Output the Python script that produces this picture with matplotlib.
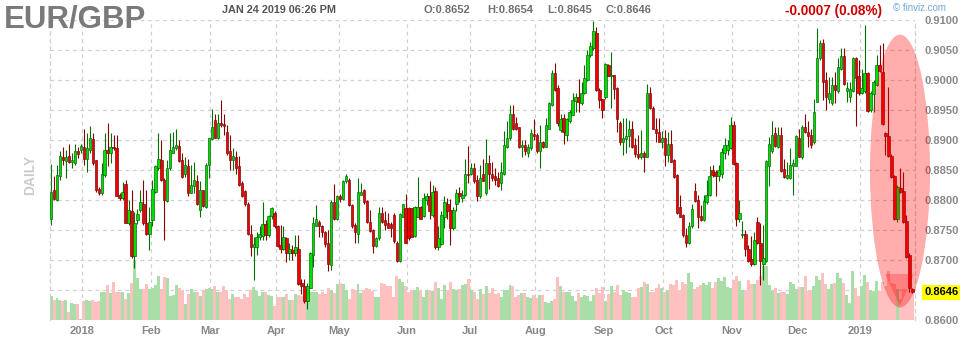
import numpy as np
import pandas as pd
import matplotlib
matplotlib.use('Agg')
import matplotlib.pyplot as plt
from matplotlib.patches import Ellipse, Polygon

plt.rcParams['font.family'] = ['Liberation Sans', 'DejaVu Sans']

# daily EUR/GBP candles, 15 Dec 2017 - 24 Jan 2019, prices in 1e-4 units
opens = [8768,8816,8800,8840,8872,8865,8874,8863,8862,8882, 8884,8889,8868,8884,8901,8867,8818,8811,8842,8883,
         8879,8889,8886,8809,8804,8827,8761,8781,8706,8766, 8783,8794,8761,8744,8767,8814,8853,8867,8834,8798,
         8853,8879,8886,8890,8866,8844,8857,8812,8823,8832, 8784,8817,8789,8858,8902,8934,8903,8928,8927,8913,
         8881,8867,8872,8857,8828,8815,8794,8744,8722,8722, 8739,8740,8760,8741,8773,8778,8757,8725,8719,8736,
         8711,8717,8711,8719,8662,8656,8632,8654,8708,8757, 8764,8757,8747,8728,8692,8797,8768,8807,8801,8831,
         8834,8792,8758,8744,8809,8817,8798,8763,8750,8723, 8736,8778,8767,8762,8760,8775,8729,8698,8772,8787,
         8786,8786,8740,8772,8788,8773,8800,8806,8775,8815, 8721,8726,8771,8794,8783,8753,8793,8811,8804,8808,
         8844,8844,8853,8833,8806,8843,8811,8862,8844,8840, 8836,8829,8844,8888,8903,8944,8929,8921,8888,8892,
         8879,8886,8910,8908,8881,8897,8889,8919,8958,9011, 8986,8917,8936,8908,8931,8942,8965,8972,8961,8978,
         9000,9041,9053,9079,8983,8968,8971,9025,9006,9008, 8986,8929,8896,8902,8906,8918,8892,8876,8871,8878,
         8872,8978,8954,8919,8914,8897,8903,8875,8894,8867, 8842,8789,8775,8741,8728,8756,8815,8800,8773,8767,
         8796,8808,8850,8847,8840,8844,8878,8883,8886,8925, 8862,8768,8741,8744,8719,8701,8694,8763,8729,8694,
         8699,8856,8882,8911,8889,8909,8852,8836,8836,8856, 8857,8904,8872,8921,8914,8908,8896,8964,9036,9061,
         9000,8969,8961,8992,8981,9018,9040,8982,8972,8981, 9036,9006,8979,8981,9011,8950,8976,8992,9025,9014,
         8911,8907,8874,8840,8769,8820,8815,8765,8708,8652]
highs = [8860,8840,8858,8881,8889,8883,8893,8878,8894,8888, 8894,8918,8911,8923,8911,8867,8822,8861,8911,8928,
         8911,8908,8908,8811,8830,8833,8800,8817,8780,8785, 8817,8833,8817,8789,8833,8858,8911,8900,8836,8867,
         8911,8914,8919,8900,8878,8872,8869,8858,8864,8842, 8831,8817,8861,8903,8951,8944,8944,8967,8944,8925,
         8908,8886,8881,8873,8832,8817,8796,8758,8739,8747, 8756,8797,8767,8775,8789,8781,8758,8758,8756,8738,
         8728,8725,8742,8742,8669,8669,8661,8714,8772,8792, 8767,8758,8749,8750,8800,8826,8808,8810,8833,8843,
         8836,8793,8761,8836,8828,8819,8800,8783,8751,8739, 8789,8789,8781,8778,8764,8779,8731,8778,8794,8810,
         8789,8787,8790,8839,8790,8811,8812,8832,8825,8821, 8757,8781,8806,8803,8801,8789,8819,8822,8817,8869,
         8890,8861,8861,8842,8858,8868,8902,8875,8864,8853, 8847,8864,8915,8932,8958,8958,8939,8922,8900,8900,
         8894,8919,8935,8911,8925,8898,8936,8964,9017,9029, 8992,8944,8944,8937,8950,8978,8978,9001,8997,9025,
         9050,9064,9098,9089,8986,8969,9029,9026,9047,9009, 8989,8931,8936,8936,8933,8932,8904,8908,8917,8881,
         8994,8989,8956,8936,8936,8915,8917,8914,8917,8868, 8843,8808,8776,8753,8764,8794,8828,8808,8792,8808,
         8833,8857,8858,8850,8859,8887,8903,8900,8939,8932, 8864,8800,8765,8750,8725,8740,8747,8772,8761,8758,
         8866,8905,8932,8922,8922,8922,8869,8864,8886,8869, 8908,8919,8925,8944,8932,8919,8969,9086,9067,9068,
         9013,9005,9005,9013,9036,9054,9053,8997,8997,9039, 9039,9033,9018,9092,9013,8981,9000,9041,9059,9061,
         8913,8988,8876,8842,8825,8853,8847,8775,8711,8654]
lows = [8758,8800,8798,8833,8858,8836,8861,8853,8858,8870, 8878,8858,8847,8878,8858,8814,8808,8808,8839,8856,
        8861,8883,8806,8800,8800,8761,8758,8703,8686,8760, 8780,8758,8742,8717,8756,8811,8850,8831,8733,8797,
        8850,8878,8883,8864,8836,8839,8806,8811,8811,8792, 8772,8789,8786,8836,8900,8903,8901,8922,8908,8875,
        8850,8850,8844,8823,8805,8790,8741,8706,8667,8708, 8733,8733,8733,8739,8769,8753,8722,8711,8717,8697,
        8700,8700,8706,8658,8644,8628,8619,8653,8689,8756, 8739,8739,8722,8681,8683,8767,8767,8797,8800,8828,
        8790,8753,8728,8729,8808,8794,8761,8747,8712,8722, 8734,8761,8750,8753,8739,8729,8697,8697,8771,8728,
        8733,8738,8739,8771,8768,8772,8792,8768,8772,8719, 8717,8725,8753,8769,8725,8750,8781,8797,8797,8806,
        8828,8842,8828,8798,8804,8831,8809,8819,8831,8825, 8822,8817,8842,8886,8900,8917,8917,8886,8871,8875,
        8872,8883,8900,8878,8854,8887,8888,8918,8957,8982, 8924,8914,8893,8898,8929,8942,8947,8947,8959,8976,
        8998,9039,9050,8982,8953,8936,8968,9006,8954,8969, 8913,8892,8875,8879,8889,8887,8872,8868,8869,8847,
        8871,8952,8918,8897,8896,8886,8857,8864,8863,8837, 8776,8771,8739,8722,8726,8753,8797,8753,8765,8765,
        8794,8806,8838,8807,8831,8836,8869,8875,8885,8858, 8756,8764,8737,8706,8697,8690,8692,8726,8658,8667,
        8697,8824,8879,8889,8887,8847,8836,8835,8835,8808, 8856,8871,8869,8911,8889,8886,8893,8963,9033,8967,
        8950,8961,8958,8961,8979,9017,8992,8963,8963,8980, 8924,8975,8976,8979,8947,8947,8947,8990,9014,8925,
        8875,8872,8837,8767,8764,8811,8761,8704,8647,8645]
closes = [8814,8801,8842,8874,8866,8872,8863,8867,8882,8877, 8890,8869,8886,8903,8861,8817,8812,8844,8884,8879,
          8889,8886,8807,8804,8814,8762,8783,8707,8761,8776, 8796,8761,8744,8764,8819,8856,8868,8833,8800,8854,
          8883,8888,8892,8865,8838,8858,8812,8825,8833,8794, 8817,8790,8859,8903,8921,8904,8929,8925,8924,8878,
          8867,8873,8854,8825,8807,8793,8743,8722,8727,8739, 8744,8760,8742,8773,8787,8756,8724,8719,8738,8711,
          8718,8711,8722,8660,8656,8632,8656,8711,8761,8769, 8756,8747,8726,8694,8797,8768,8807,8801,8832,8840,
          8792,8756,8746,8813,8813,8796,8763,8749,8724,8737, 8778,8764,8758,8754,8753,8731,8698,8777,8793,8729,
          8736,8739,8789,8789,8769,8804,8806,8781,8814,8721, 8736,8775,8796,8781,8754,8783,8811,8806,8809,8844,
          8841,8854,8832,8807,8837,8832,8862,8843,8837,8834, 8824,8847,8892,8904,8944,8919,8919,8888,8892,8881,
          8889,8911,8906,8881,8897,8889,8925,8961,9011,8983, 8929,8935,8913,8935,8946,8967,8972,8963,8979,9004,
          9041,9056,9082,8983,8967,8950,9026,9007,9009,8985, 8935,8896,8903,8907,8918,8889,8876,8871,8878,8871,
          8978,8953,8919,8912,8897,8903,8875,8894,8864,8839, 8778,8772,8741,8728,8757,8785,8798,8771,8767,8798,
          8808,8840,8842,8840,8850,8880,8892,8892,8925,8860, 8768,8779,8744,8718,8699,8694,8734,8729,8699,8704,
          8865,8893,8908,8890,8909,8848,8839,8841,8858,8861, 8906,8872,8921,8913,8906,8892,8946,9036,9061,8997,
          8971,8979,8991,8983,9021,9040,8994,8986,8985,9036, 9004,8979,8987,9011,8949,8978,8997,9025,9015,8926,
          8906,8873,8838,8769,8822,8814,8764,8705,8653,8646]
volume = [24,20,22,20,19,20,8,17,16,16, 1,19,20,19,20,18,19,28,28,35, 27,38,28,28,28,21,27,37,60,42,
          31,31,36,31,32,35,44,31,43,42, 24,25,35,32,30,16,26,31,28,28, 24,30,31,32,31,34,28,28,34,30,
          21,26,23,23,21,26,23,30,33,29, 24,28,28,25,24,14,23,23,23,26, 20,20,26,25,24,25,27,28,28,28,
          26,28,26,32,30,27,36,37,36,30, 21,31,30,36,27,30,32,31,29,23, 23,37,36,34,34,23,44,41,38,34,
          28,30,30,33,30,23,30,30,29,38, 32,21,35,30,38,31,30,31,35,36, 41,30,28,21,31,26,34,27,32,26,
          27,23,30,30,35,34,23,25,27,27, 23,22,25,22,25,25,18,17,19,21, 43,34,28,28,28,24,19,27,23,25,
          24,19,25,32,27,33,19,26,34,28, 35,25,30,28,27,23,23,32,33,38, 36,28,28,32,36,32,28,29,36,35,
          40,30,38,36,47,38,31,33,35,37, 35,38,32,38,42,39,43,33,32,40, 44,39,30,30,40,36,36,40,44,54,
          54,35,29,32,27,28,28,26,38,36, 31,33,33,44,29,29,34,44,40,47, 36,31,36,37,47,42,37,25,17,49,
          32,24,34,45,38,30,29,39,29,38, 34,49,37,36,31,21,31,31,33,31]

opens = np.array(opens) / 1e4
highs = np.array(highs) / 1e4
lows = np.array(lows) / 1e4
closes = np.array(closes) / 1e4
volume = np.array(volume)

dates = pd.bdate_range('2017-12-15', '2019-01-24')
x = np.arange(len(closes))
up = closes >= opens

W, H = 964, 340
fig = plt.figure(figsize=(W / 100, H / 100), dpi=100)
ax = fig.add_axes([50 / W, 20 / H, 865 / W, 300 / H])
ymin, ymax = 0.8600, 0.9100
ax.set_ylim(ymin, ymax)
ax.set_xlim(-0.35, len(x) - 0.1)

grid_kw = dict(color='#d0d0d0', lw=0.9, ls=(0, (3, 3)), zorder=0)
yt = np.arange(ymin, ymax + 1e-6, 0.0050)
for lev in yt:
    ax.axhline(lev, **grid_kw)
month_idx = [i for i in range(1, len(dates)) if dates[i].month != dates[i - 1].month]
month_pos = [i - 0.5 for i in month_idx]
for p in month_pos:
    ax.axvline(p, **grid_kw)

# volume along the bottom
vcol = np.where(up, '#a9dea9', '#ffc0c0')
ax.bar(x, volume / 300 * (ymax - ymin), bottom=ymin, width=1.0, color=vcol,
       linewidth=0, zorder=1)

# candles
ax.vlines(x, lows, highs, colors=np.where(up, '#007000', '#880000'), lw=0.8, zorder=2)
ax.bar(x, np.abs(closes - opens), bottom=np.minimum(opens, closes), width=0.8,
       color=np.where(up, '#00e000', '#f00000'),
       edgecolor=np.where(up, '#005a00', '#700000'), linewidth=0.45, zorder=3)

for s in ['top', 'bottom']:
    ax.spines[s].set_visible(False)
for s in ['left', 'right']:
    ax.spines[s].set_color('#d0d0d0')
    ax.spines[s].set_linestyle((0, (3, 3)))
    ax.spines[s].set_linewidth(0.9)

ax.yaxis.tick_right()
ax.set_yticks(yt)
ax.set_yticklabels(['' if abs(v - 0.8650) < 1e-6 else f'{v:.4f}' for v in yt],
                   fontweight='bold')
ax.tick_params(axis='y', length=0, pad=7, labelsize=8, labelcolor='#888888')

mlabels = [str(dates[i].year) if dates[i].month == 1 else dates[i].strftime('%b') for i in month_idx]
ax.set_xticks(month_pos)
ax.set_xticklabels(mlabels, fontweight='bold')
ax.tick_params(axis='x', length=0, pad=4, labelsize=8, labelcolor='#888888')

# last price tag
ax.annotate(f'{closes[-1]:.4f}', xy=(1, closes[-1]), xycoords=('axes fraction', 'data'),
            xytext=(6.5, 0), textcoords='offset points', ha='left', va='center',
            fontsize=8, fontweight='bold', color='black',
            bbox=dict(boxstyle='square,pad=0.2', fc='#ffff00', ec='none'))

# header
def fx(px):
    return px / W

def fy(py):
    return 1 - py / H

fig.text(fx(4), fy(27), 'EUR/GBP', fontsize=22.5, fontweight='bold', color='#7a7a7a', va='baseline')
fig.text(fx(222), fy(10), 'JAN 24 2019 06:26 PM', fontsize=7.8, fontweight='bold', color='#555555', va='center')
hdr = [('O', opens[-1], 423), ('H', highs[-1], 487), ('L', lows[-1], 547), ('C', closes[-1], 606)]
for k, v, px in hdr:
    fig.text(fx(px), fy(10), f'{k}:{v:.4f}', fontsize=8, fontweight='bold', color='#707070', va='center')
chg = closes[-1] - closes[-2]
fig.text(fx(785), fy(11), f'{chg:+.4f} ({abs(chg) / closes[-2] * 100:.2f}%)', fontsize=9.8,
         fontweight='bold', color='#cc0000', va='center')
fig.text(fx(893), fy(8), '\u00a9 finviz.com', fontsize=7, color='#6fa8dc', va='center')
fig.text(fx(30), fy(175), 'DAILY', fontsize=10, fontweight='bold', color='#cccccc',
         rotation=90, ha='center', va='center')

# highlight of the January drop
fig.add_artist(Ellipse((fx(900), fy(171)), 60 / W, 273 / H, transform=fig.transFigure,
                       facecolor='red', edgecolor='none', alpha=0.32, zorder=5))
fig.add_artist(Polygon([(fx(885), fy(274)), (fx(914), fy(274)), (fx(900), fy(306))],
                       closed=True, transform=fig.transFigure, facecolor='red',
                       edgecolor='none', alpha=0.25, zorder=5))

fig.savefig('out.png', dpi=100)
